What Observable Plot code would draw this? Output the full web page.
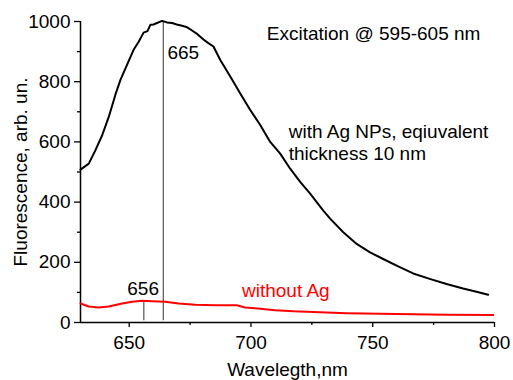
<!DOCTYPE html>
<html>
<head>
<meta charset="utf-8">
<script src="https://cdn.jsdelivr.net/npm/d3@7"></script>
<script src="https://cdn.jsdelivr.net/npm/@observablehq/plot@0.6"></script>
<style>
  html, body { margin: 0; padding: 0; background: #fff; }
</style>
</head>
<body>
<div id="chart"></div>
<script>
// With Ag NPs (black)
const wavelengthAg = [630, 633.4, 636.1, 638.9, 641.6, 644.3, 646.4, 649.1, 651.8, 653.9, 655.9, 657.5, 658.7, 660, 661.4, 663.5, 665.5, 667.6, 669.5, 671.7, 673.5, 675.8, 678, 680.5, 682.5, 684.6, 687.4, 691.5, 695.6, 699.7, 703.8, 707.9, 712, 716.1, 720.2, 724.3, 729.7, 732.5, 737.9, 743.4, 748.9, 754.3, 759.8, 766.6, 773.4, 780.3, 787.1, 792.6, 797.4];
const intensityAg  = [508, 528, 572, 622, 683, 756, 806, 856, 906, 933, 963, 968, 989, 990, 995, 1002, 997, 995, 990, 986, 982, 970, 958, 940, 928, 917, 872, 817, 761, 706, 656, 600, 561, 511, 467, 428, 372, 345, 300, 261, 233, 211, 189, 163, 145, 128, 113, 102, 92];

// Without Ag (red)
const wavelengthNoAg = [630, 633.4, 637.5, 641.6, 647.1, 651.2, 655.3, 659.4, 664.8, 670.3, 677.1, 685.3, 694.2, 697.6, 701.7, 709.9, 717.4, 725.6, 739.3, 753, 766.7, 780.4, 799.5];
const intensityNoAg  = [63, 53, 50, 53, 63, 69, 72, 71, 69, 63, 59, 57, 57, 50, 47, 41, 37, 35, 31, 29, 27, 26, 25];

const xTicks = [650, 700, 750, 800];
const xMinorTicks = [675, 725, 775];
const yTicks = [0, 200, 400, 600, 800, 1000];
const yMinorTicks = [100, 300, 500, 700, 900];

const peakWavelengths = [664, 656];
const peakTops = [1000, 72];
const peakLabels = ["665", "656"];

const xLabel = "Wavelegth,nm";
const yLabel = "Fluorescence, arb. un.";
const excitationText = "Excitation @ 595-605 nm";
const agLabel = ["with Ag NPs, eqiuvalent", "thickness 10 nm"];
const noAgLabel = "without Ag";

const seriesAg = wavelengthAg.map((w, i) => ({w, v: intensityAg[i]}));
const seriesNoAg = wavelengthNoAg.map((w, i) => ({w, v: intensityNoAg[i]}));
const peaks = peakWavelengths.map((w, i) => ({w, top: peakTops[i], label: peakLabels[i]}));

const font = "'Liberation Sans', Arial, Helvetica, sans-serif";

const chart = Plot.plot({
  width: 513,
  height: 380,
  marginLeft: 80,
  marginRight: 19,
  marginTop: 21,
  marginBottom: 58,
  x: {domain: [630, 800]},
  y: {domain: [0, 1000]},
  style: {fontFamily: font, fontSize: "19px", color: "black", background: "white", overflow: "visible"},
  marks: [
    Plot.axisX({ticks: xTicks, tickSize: 5, tickPadding: 8, tickFormat: d => String(d), label: null, strokeWidth: 1.3}),
    Plot.axisX({ticks: xMinorTicks, tickSize: 3, tickFormat: () => "", label: null, strokeWidth: 1.3}),
    Plot.axisY({ticks: yTicks, tickSize: 6, tickPadding: 4, tickFormat: d => String(d), label: null, strokeWidth: 1.3}),
    Plot.axisY({ticks: yMinorTicks, tickSize: 3, tickFormat: () => "", label: null, strokeWidth: 1.3}),
    Plot.ruleX([{x: 630, a: 0, b: 1000}], {x: "x", y1: "a", y2: "b", stroke: "black", strokeWidth: 1.5}),
    Plot.ruleY([{y: 0, a: 630, b: 800}], {y: "y", x1: "a", x2: "b", stroke: "black", strokeWidth: 1.5}),
    // peak markers
    Plot.ruleX(peaks, {x: "w", y1: () => 6, y2: "top", stroke: "#555", strokeWidth: 1.2}),
    // curves
    Plot.line(seriesNoAg, {x: "w", y: "v", stroke: "#ff0000", strokeWidth: 2}),
    Plot.line(seriesAg, {x: "w", y: "v", stroke: "black", strokeWidth: 2}),
    // annotations
    Plot.text([peakLabels[0]], {x: () => 665.7, y: () => 894, text: d => d, textAnchor: "start", lineAnchor: "middle", fill: "black"}),
    Plot.text([peakLabels[1]], {x: () => 655.7, y: () => 113, text: d => d, textAnchor: "middle", lineAnchor: "middle", fill: "black"}),
    Plot.text([excitationText], {x: () => 706.5, y: () => 960, text: d => d, textAnchor: "start", lineAnchor: "middle", fill: "black"}),
    Plot.text([agLabel.join("\n")], {x: () => 715.5, y: () => 628, text: d => d, textAnchor: "start", lineAnchor: "top", lineHeight: 1.16, dy: -11, fill: "black"}),
    Plot.text([noAgLabel], {x: () => 696.3, y: () => 106, text: d => d, textAnchor: "start", lineAnchor: "middle", fill: "#ff0000"}),
    // axis titles
    Plot.text([xLabel], {frameAnchor: "bottom", text: d => d, dy: 47, lineAnchor: "middle", fill: "black"}),
    Plot.text([yLabel], {frameAnchor: "left", text: d => d, dx: -60, rotate: -90, lineAnchor: "middle", textAnchor: "middle", fill: "black"})
  ]
});

document.getElementById("chart").appendChild(chart);
</script>
</body>
</html>
